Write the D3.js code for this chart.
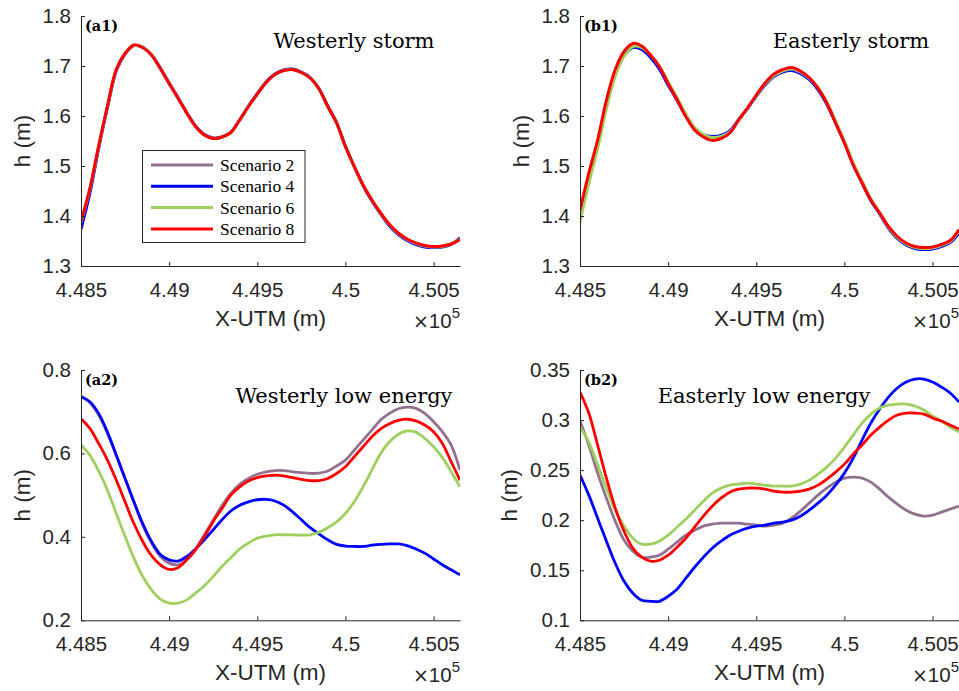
<!DOCTYPE html>
<html>
<head>
<meta charset="utf-8">
<script src="https://cdn.jsdelivr.net/npm/d3@7"></script>
<style>
  html, body { margin: 0; padding: 0; background: #ffffff; }
  svg { display: block; }
</style>
</head>
<body>
<svg id="chart" width="959" height="691"></svg>
<script>
// Cross-shore position (X-UTM, metres), shared by every profile
const xUtm = [448500, 448550, 448600, 448650, 448700, 448750, 448800, 448850, 448900, 448950,
              449000, 449050, 449100, 449150, 449200, 449250, 449300, 449350, 449400, 449450,
              449500, 449550, 449600, 449650, 449700, 449750, 449800, 449850, 449900, 449950,
              450000, 450050, 450100, 450150, 450200, 450250, 450300, 450350, 450400, 450450,
              450500, 450550, 450600, 450650];

const scenarios = ["Scenario 2", "Scenario 4", "Scenario 6", "Scenario 8"];
const scenarioColors = ["#93708f", "#0000ff", "#9fd05f", "#ff0000"];

// (a1) Westerly storm: wave height h (m)
const westStormS2 = [1.386, 1.452, 1.538, 1.619, 1.692, 1.725, 1.741, 1.738, 1.722, 1.695,
                     1.665, 1.636, 1.606, 1.579, 1.562, 1.555, 1.558, 1.567, 1.592, 1.619,
                     1.644, 1.667, 1.683, 1.691, 1.693, 1.687, 1.676, 1.654, 1.619, 1.586,
                     1.539, 1.499, 1.462, 1.432, 1.405, 1.382, 1.365, 1.353, 1.345, 1.340,
                     1.338, 1.339, 1.344, 1.354];
const westStormS4 = [1.374, 1.445, 1.535, 1.617, 1.690, 1.724, 1.741, 1.737, 1.722, 1.696,
                     1.666, 1.637, 1.607, 1.580, 1.563, 1.556, 1.558, 1.568, 1.592, 1.620,
                     1.645, 1.668, 1.684, 1.692, 1.694, 1.688, 1.677, 1.655, 1.620, 1.587,
                     1.540, 1.499, 1.461, 1.430, 1.404, 1.380, 1.363, 1.351, 1.343, 1.338,
                     1.337, 1.338, 1.343, 1.356];
const westStormS6 = [1.387, 1.453, 1.539, 1.619, 1.692, 1.725, 1.741, 1.738, 1.722, 1.695,
                     1.665, 1.636, 1.606, 1.579, 1.562, 1.555, 1.558, 1.567, 1.592, 1.619,
                     1.644, 1.667, 1.683, 1.691, 1.693, 1.687, 1.676, 1.654, 1.619, 1.586,
                     1.539, 1.499, 1.462, 1.432, 1.405, 1.382, 1.365, 1.353, 1.345, 1.340,
                     1.338, 1.339, 1.344, 1.354];
const westStormS8 = [1.389, 1.455, 1.540, 1.620, 1.693, 1.725, 1.742, 1.737, 1.722, 1.695,
                     1.665, 1.636, 1.606, 1.579, 1.562, 1.555, 1.558, 1.567, 1.592, 1.619,
                     1.644, 1.667, 1.683, 1.691, 1.693, 1.687, 1.676, 1.654, 1.619, 1.586,
                     1.539, 1.499, 1.462, 1.432, 1.406, 1.383, 1.366, 1.354, 1.346, 1.341,
                     1.339, 1.340, 1.344, 1.353];

// (b1) Easterly storm
const eastStormS2 = [1.395, 1.472, 1.541, 1.620, 1.683, 1.721, 1.738, 1.735, 1.719, 1.697,
                     1.665, 1.634, 1.602, 1.576, 1.562, 1.558, 1.560, 1.569, 1.592, 1.615,
                     1.640, 1.663, 1.680, 1.689, 1.692, 1.686, 1.674, 1.655, 1.626, 1.588,
                     1.548, 1.504, 1.468, 1.432, 1.405, 1.377, 1.356, 1.343, 1.336, 1.334,
                     1.335, 1.340, 1.348, 1.368];
const eastStormS4 = [1.400, 1.478, 1.546, 1.625, 1.686, 1.722, 1.737, 1.733, 1.717, 1.694,
                     1.662, 1.632, 1.600, 1.575, 1.562, 1.559, 1.561, 1.570, 1.593, 1.615,
                     1.640, 1.662, 1.679, 1.688, 1.691, 1.685, 1.673, 1.653, 1.624, 1.586,
                     1.547, 1.503, 1.466, 1.431, 1.404, 1.376, 1.355, 1.342, 1.335, 1.333,
                     1.334, 1.339, 1.347, 1.366];
const eastStormS6 = [1.388, 1.465, 1.535, 1.615, 1.680, 1.720, 1.739, 1.737, 1.722, 1.700,
                     1.668, 1.637, 1.604, 1.577, 1.563, 1.557, 1.559, 1.568, 1.592, 1.616,
                     1.641, 1.664, 1.681, 1.690, 1.694, 1.688, 1.676, 1.657, 1.628, 1.590,
                     1.550, 1.506, 1.470, 1.434, 1.406, 1.378, 1.357, 1.344, 1.337, 1.335,
                     1.336, 1.341, 1.349, 1.370];
const eastStormS8 = [1.412, 1.486, 1.552, 1.632, 1.693, 1.729, 1.745, 1.740, 1.722, 1.699,
                     1.665, 1.633, 1.599, 1.572, 1.558, 1.551, 1.555, 1.566, 1.592, 1.616,
                     1.642, 1.666, 1.684, 1.693, 1.697, 1.690, 1.677, 1.656, 1.626, 1.586,
                     1.546, 1.502, 1.466, 1.432, 1.406, 1.379, 1.359, 1.346, 1.339, 1.337,
                     1.338, 1.343, 1.351, 1.373];

// (a2) Westerly low energy
const westLowS2 = [0.738, 0.722, 0.692, 0.648, 0.596, 0.540, 0.484, 0.428, 0.385, 0.353,
                   0.337, 0.333, 0.345, 0.371, 0.405, 0.440, 0.475, 0.504, 0.526, 0.540,
                   0.550, 0.556, 0.559, 0.559, 0.556, 0.554, 0.552, 0.553, 0.558, 0.570,
                   0.584, 0.608, 0.632, 0.656, 0.680, 0.696, 0.707, 0.711, 0.708, 0.696,
                   0.676, 0.652, 0.620, 0.560];
const westLowS4 = [0.736, 0.724, 0.696, 0.651, 0.596, 0.540, 0.484, 0.432, 0.389, 0.358,
                   0.345, 0.342, 0.353, 0.371, 0.393, 0.417, 0.441, 0.462, 0.476, 0.484,
                   0.489, 0.490, 0.486, 0.476, 0.460, 0.441, 0.422, 0.407, 0.393, 0.382,
                   0.378, 0.377, 0.377, 0.380, 0.382, 0.383, 0.383, 0.379, 0.371, 0.361,
                   0.347, 0.333, 0.321, 0.309];
const westLowS6 = [0.620, 0.596, 0.558, 0.512, 0.456, 0.401, 0.349, 0.305, 0.273, 0.251,
                   0.241, 0.241, 0.249, 0.265, 0.283, 0.305, 0.329, 0.350, 0.371, 0.385,
                   0.397, 0.402, 0.405, 0.405, 0.405, 0.404, 0.405, 0.411, 0.422, 0.436,
                   0.456, 0.484, 0.520, 0.560, 0.600, 0.628, 0.646, 0.654, 0.651, 0.636,
                   0.616, 0.590, 0.556, 0.520];
const westLowS8 = [0.683, 0.660, 0.624, 0.584, 0.536, 0.484, 0.432, 0.389, 0.355, 0.333,
                   0.322, 0.326, 0.345, 0.369, 0.401, 0.437, 0.468, 0.500, 0.520, 0.534,
                   0.542, 0.546, 0.548, 0.546, 0.542, 0.538, 0.535, 0.535, 0.540, 0.552,
                   0.568, 0.592, 0.616, 0.640, 0.659, 0.671, 0.679, 0.682, 0.678, 0.668,
                   0.652, 0.624, 0.580, 0.536];

// (b2) Easterly low energy
const eastLowS2 = [0.299, 0.275, 0.247, 0.222, 0.199, 0.180, 0.169, 0.163, 0.163, 0.165,
                   0.171, 0.178, 0.185, 0.190, 0.194, 0.196, 0.197, 0.197, 0.197, 0.196,
                   0.195, 0.194, 0.195, 0.197, 0.202, 0.209, 0.217, 0.225, 0.232, 0.238,
                   0.242, 0.243, 0.242, 0.238, 0.231, 0.223, 0.216, 0.210, 0.206, 0.204,
                   0.205, 0.208, 0.211, 0.214];
const eastLowS4 = [0.245, 0.225, 0.202, 0.179, 0.157, 0.139, 0.127, 0.120, 0.119, 0.119,
                   0.124, 0.131, 0.142, 0.153, 0.163, 0.172, 0.179, 0.185, 0.189, 0.192,
                   0.194, 0.195, 0.197, 0.198, 0.200, 0.204, 0.210, 0.217, 0.225, 0.235,
                   0.247, 0.262, 0.280, 0.297, 0.311, 0.323, 0.332, 0.338, 0.341, 0.341,
                   0.338, 0.333, 0.327, 0.318];
const eastLowS6 = [0.293, 0.278, 0.255, 0.232, 0.210, 0.194, 0.182, 0.176, 0.176, 0.179,
                   0.185, 0.193, 0.201, 0.210, 0.219, 0.227, 0.232, 0.235, 0.236, 0.237,
                   0.236, 0.235, 0.234, 0.234, 0.234, 0.236, 0.240, 0.246, 0.253, 0.262,
                   0.273, 0.285, 0.297, 0.306, 0.312, 0.315, 0.316, 0.316, 0.314, 0.310,
                   0.304, 0.299, 0.293, 0.288];
const eastLowS8 = [0.328, 0.307, 0.275, 0.242, 0.212, 0.189, 0.172, 0.163, 0.159, 0.160,
                   0.165, 0.173, 0.182, 0.193, 0.204, 0.214, 0.222, 0.228, 0.231, 0.232,
                   0.232, 0.231, 0.229, 0.228, 0.228, 0.229, 0.231, 0.235, 0.241, 0.248,
                   0.256, 0.266, 0.275, 0.285, 0.293, 0.300, 0.305, 0.307, 0.307, 0.306,
                   0.302, 0.299, 0.295, 0.291];

// Axis ticks
const xTicks = [448500, 449000, 449500, 450000, 450500];
const xTickLabels = ["4.485", "4.49", "4.495", "4.5", "4.505"];
const stormTicks = [1.3, 1.4, 1.5, 1.6, 1.7, 1.8];
const stormTickLabels = ["1.3", "1.4", "1.5", "1.6", "1.7", "1.8"];
const westLowTicks = [0.2, 0.4, 0.6, 0.8];
const westLowTickLabels = ["0.2", "0.4", "0.6", "0.8"];
const eastLowTicks = [0.1, 0.15, 0.2, 0.25, 0.3, 0.35];
const eastLowTickLabels = ["0.1", "0.15", "0.2", "0.25", "0.3", "0.35"];

// Panel layout
const panels = [
  { tag: "(a1)", title: "Westerly storm", series: [westStormS2, westStormS4, westStormS6, westStormS8],
    ticks: stormTicks, tickLabels: stormTickLabels, left: 81, top: 16, bottom: 266,
    titleX: 354, titleY: 47.5, legend: true, lw: 3 },
  { tag: "(b1)", title: "Easterly storm", series: [eastStormS2, eastStormS4, eastStormS6, eastStormS8],
    ticks: stormTicks, tickLabels: stormTickLabels, left: 580, top: 16, bottom: 266,
    titleX: 851, titleY: 47.5, legend: false, lw: 3 },
  { tag: "(a2)", title: "Westerly low energy", series: [westLowS2, westLowS4, westLowS6, westLowS8],
    ticks: westLowTicks, tickLabels: westLowTickLabels, left: 81, top: 370, bottom: 620.3,
    titleX: 344, titleY: 402.5, legend: false, lw: 2.8 },
  { tag: "(b2)", title: "Easterly low energy", series: [eastLowS2, eastLowS4, eastLowS6, eastLowS8],
    ticks: eastLowTicks, tickLabels: eastLowTickLabels, left: 580, top: 370, bottom: 620.3,
    titleX: 764, titleY: 402.5, legend: false, lw: 2.8 }
];
const plotWidth = 379;
const axisColor = "#262626";
const sansFont = "'Liberation Sans', Arial, Helvetica, sans-serif";
const tickFontSize = 20.5;

const svg = d3.select("#chart");

panels.forEach((p, pi) => {
  const x = d3.scaleLinear().domain([448500, 450650]).range([p.left, p.left + plotWidth]);
  const y = d3.scaleLinear().domain([p.ticks[0], p.ticks[p.ticks.length - 1]]).range([p.bottom, p.top]);
  const g = svg.append("g");

  // profiles
  const line = d3.line()
    .x((d, i) => x(xUtm[i]))
    .y(d => y(d))
    .curve(d3.curveCatmullRom.alpha(0.5));
  const clipId = "clip" + pi;
  svg.append("clipPath").attr("id", clipId).append("rect")
    .attr("x", p.left).attr("y", p.top - 10).attr("width", plotWidth).attr("height", p.bottom - p.top + 10);
  const lines = g.append("g").attr("clip-path", `url(#${clipId})`);
  p.series.forEach((vals, si) => {
    lines.append("path")
      .datum(vals)
      .attr("fill", "none")
      .attr("stroke", scenarioColors[si])
      .attr("stroke-width", p.lw)
      .attr("stroke-linejoin", "round")
      .attr("d", line);
  });

  // y axis (ticks pointing inward)
  const yAxis = g.append("g")
    .attr("transform", `translate(${p.left},0)`)
    .call(d3.axisLeft(y).tickValues(p.ticks).tickSize(-4).tickSizeOuter(0).tickPadding(10)
      .tickFormat((d, i) => p.tickLabels[i]));
  // x axis
  const xAxis = g.append("g")
    .attr("transform", `translate(0,${p.bottom})`)
    .call(d3.axisBottom(x).tickValues(xTicks).tickSize(-4).tickSizeOuter(0).tickPadding(16)
      .tickFormat((d, i) => xTickLabels[i]));
  [yAxis, xAxis].forEach(ax => {
    ax.select(".domain").attr("stroke", axisColor).attr("stroke-width", 1);
    ax.selectAll(".tick line").attr("stroke", axisColor).attr("stroke-width", 1);
    ax.selectAll(".tick text").attr("fill", axisColor)
      .style("font-family", sansFont).style("font-size", tickFontSize + "px");
  });

  // y label placed clear of the widest tick label
  let maxW = 0;
  yAxis.selectAll(".tick text").each(function () { maxW = Math.max(maxW, this.getComputedTextLength()); });
  const labelX = p.left - 10 - maxW - 13;
  g.append("text")
    .attr("transform", `translate(${labelX},${(p.top + p.bottom) / 2}) rotate(-90)`)
    .attr("text-anchor", "middle")
    .attr("fill", axisColor)
    .style("font-family", sansFont).style("font-size", "22.5px")
    .text("h (m)");

  // x label
  g.append("text")
    .attr("x", p.left + plotWidth / 2)
    .attr("y", p.bottom + 60)
    .attr("text-anchor", "middle")
    .attr("fill", axisColor)
    .style("font-family", sansFont).style("font-size", "22.5px")
    .text("X-UTM (m)");

  // exponent of the x axis
  const expo = g.append("text")
    .attr("x", p.left + plotWidth)
    .attr("y", p.bottom + 62)
    .attr("text-anchor", "end")
    .attr("fill", axisColor)
    .attr("font-family", sansFont)
    .attr("font-size", 20.5);
  expo.append("tspan").attr("font-size", 19).attr("font-family", "'DejaVu Sans', sans-serif").text("\u00d7");
  expo.append("tspan").attr("font-size", 20.5).text("10");
  expo.append("tspan").attr("dy", -10).attr("font-size", 15).text("5");

  // panel tag
  g.append("text")
    .attr("x", p.left + 4)
    .attr("y", p.top + 15)
    .attr("fill", "#000")
    .style("font-family", "'DejaVu Serif', serif").style("font-size", "14.5px").style("font-weight", "bold")
    .text(p.tag);

  // panel title
  g.append("text")
    .attr("x", p.titleX)
    .attr("y", p.titleY)
    .attr("text-anchor", "middle")
    .attr("fill", "#000")
    .style("font-family", "'DejaVu Serif', serif").style("font-size", "21px")
    .text(p.title);

  // legend
  if (p.legend) {
    const lg = g.append("g");
    lg.append("rect")
      .attr("x", 142.5).attr("y", 150.5).attr("width", 162.5).attr("height", 92)
      .attr("fill", "#fff").attr("stroke", axisColor).attr("stroke-width", 1);
    scenarios.forEach((name, i) => {
      const cy = 165 + i * 21.3;
      lg.append("line")
        .attr("x1", 151).attr("x2", 213).attr("y1", cy).attr("y2", cy)
        .attr("stroke", scenarioColors[i]).attr("stroke-width", 3);
      lg.append("text")
        .attr("x", 220).attr("y", cy + 6)
        .attr("fill", "#000")
        .style("font-family", "'Liberation Serif', 'Times New Roman', serif").style("font-size", "17.5px")
        .text(name);
    });
  }
});
</script>
</body>
</html>
